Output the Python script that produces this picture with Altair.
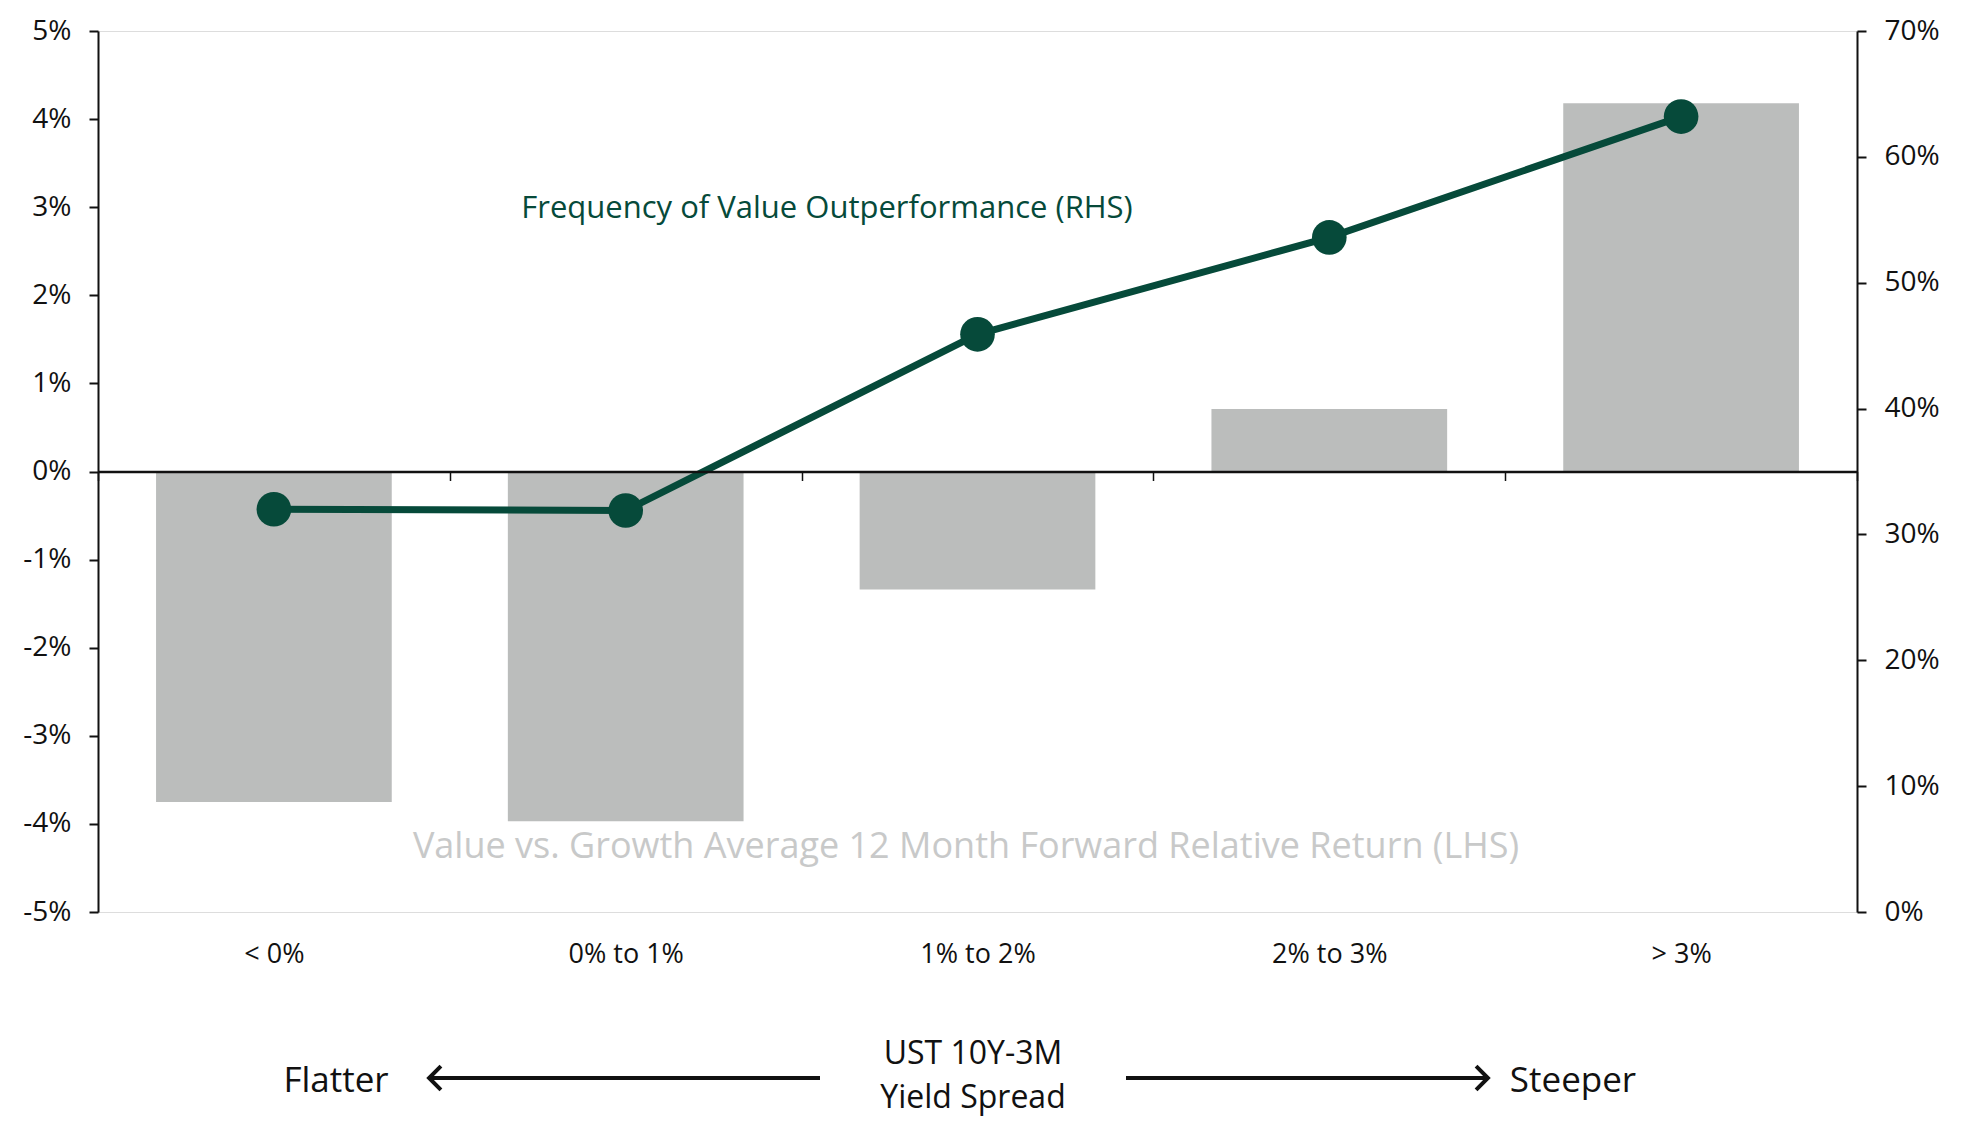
import altair as alt
import pandas as pd

categories = ["< 0%", "0% to 1%", "1% to 2%", "2% to 3%", "> 3%"]
relative_return = [-3.75, -3.97, -1.34, 0.71, 4.18]   # LHS, %
frequency = [32.0, 31.9, 45.9, 53.6, 63.2]            # RHS, %

left_ticks = [-5, -4, -3, -2, -1, 0, 1, 2, 3, 4, 5]
right_ticks = [0, 10, 20, 30, 40, 50, 60, 70]

FONT = "Open Sans"
GREEN = "#064A3A"
GREY = "#BBBDBC"
TOP = 23
W, H = 1759, 912 - 8 - TOP

df = pd.DataFrame({"cat": categories, "ret": relative_return, "freq": frequency})

xenc = alt.X(
    "cat:N", sort=categories, title=None,
    scale=alt.Scale(paddingInner=0, paddingOuter=0),
    axis=alt.Axis(
        orient="bottom", offset=-H / 2, tickBand="extent", labelAngle=0,
        domainColor="#111111", domainWidth=2.5, tickColor="#111111", tickWidth=1.5,
        tickSize=9, labelPadding=461, labelFont=FONT, labelFontSize=27,
        labelColor="#111111", zindex=1,
    ),
)

bars = alt.Chart(df).mark_bar(color=GREY, width=alt.RelativeBandSize(0.67)).encode(
    x=xenc,
    y=alt.Y(
        "ret:Q", title=None,
        scale=alt.Scale(domain=[-5, 5], nice=False, zero=False),
        axis=alt.Axis(
            orient="left", values=left_ticks, labelExpr="datum.value + '%'",
            grid=False, domainColor="#111111", domainWidth=2, tickColor="#111111",
            tickWidth=2, tickSize=9, labelPadding=18, labelFont=FONT,
            labelFontSize=28, labelColor="#111111",
        ),
    ),
)

yr = alt.Y(
    "freq:Q", title=None,
    scale=alt.Scale(domain=[0, 70], nice=False),
    axis=alt.Axis(
        orient="right", values=right_ticks, labelExpr="datum.value + '%'",
        grid=False, domainColor="#111111", domainWidth=2, tickColor="#111111",
        tickWidth=2, tickSize=9, labelPadding=18, labelFont=FONT,
        labelFontSize=28, labelColor="#111111",
    ),
)

line = alt.Chart(df).mark_line(color=GREEN, strokeWidth=7).encode(
    x=alt.X("cat:N", sort=categories), y=yr
)
pts = alt.Chart(df).mark_circle(color=GREEN, size=1200, opacity=1).encode(
    x=alt.X("cat:N", sort=categories), y=yr
)
green_layer = alt.layer(line, pts)

def label(text, x, y, size, color="#111111", align="center"):
    return alt.Chart(pd.DataFrame({"t": [text]})).mark_text(
        font=FONT, fontSize=size, color=color, align=align, baseline="alphabetic"
    ).encode(text="t:N", x=alt.value(x), y=alt.value(y))

# annotation positions relative to the plot origin (98, TOP+8)
dy = TOP + 8
ann_freq = label("Frequency of Value Outperformance (RHS)", 729, 218 - dy, 31, GREEN)
ann_ret = label("Value vs. Growth Average 12 Month Forward Relative Return (LHS)", 868, 858 - dy, 36, "#C8C9C9")
t_ust = label("UST 10Y-3M", 875, 1064 - dy, 32)
t_yield = label("Yield Spread", 875, 1108 - dy, 32)
t_flat = label("Flatter", 238, 1092 - dy, 35)
t_steep = label("Steeper", 1475, 1092 - dy, 35)

ARROW_Y = 1078 - dy
arrow_l = alt.Chart(pd.DataFrame({"a": [0]})).mark_rule(color="#111111", strokeWidth=4).encode(
    x=alt.value(331), x2=alt.value(722), y=alt.value(ARROW_Y)
)
arrow_r = alt.Chart(pd.DataFrame({"a": [0]})).mark_rule(color="#111111", strokeWidth=4).encode(
    x=alt.value(1028), x2=alt.value(1388), y=alt.value(ARROW_Y)
)
head_l = alt.Chart(pd.DataFrame({"a": [0]})).mark_point(
    shape="M0.5,-1L-0.5,0L0.5,1", filled=False, color="#111111", strokeWidth=4, size=560, opacity=1
).encode(x=alt.value(337), y=alt.value(ARROW_Y))
head_r = alt.Chart(pd.DataFrame({"a": [0]})).mark_point(
    shape="M-0.5,-1L0.5,0L-0.5,1", filled=False, color="#111111", strokeWidth=4, size=560, opacity=1
).encode(x=alt.value(1384), y=alt.value(ARROW_Y))

chart = alt.layer(
    bars, green_layer, ann_freq, ann_ret, t_ust, t_yield, t_flat, t_steep,
    arrow_l, arrow_r, head_l, head_r,
).resolve_scale(y="independent").properties(
    width=W, height=H,
    padding={"left": 90, "top": TOP, "right": 104, "bottom": 1108 - TOP - H},
    autosize=alt.AutoSizeParams(type="none"),
).configure_view(stroke=None).configure(background="white")

chart.save("out.html", embed_options={"renderer": "svg", "actions": False})
